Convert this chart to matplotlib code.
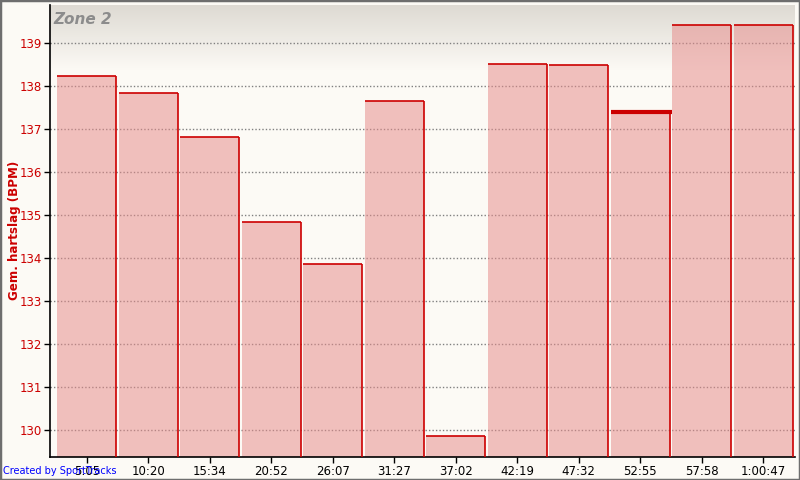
import numpy as np
import matplotlib
matplotlib.use("Agg")
import matplotlib.pyplot as plt
from matplotlib.patches import Rectangle

categories = ["5:05", "10:20", "15:34", "20:52", "26:07", "31:27",
              "37:02", "42:19", "47:32", "52:55", "57:58", "1:00:47"]
values = [138.23, 137.84, 136.82, 134.84, 133.87, 137.66,
          129.87, 138.51, 138.49, 137.40, 139.42, 139.42]
highlight_index = 9
yticks = [130, 131, 132, 133, 134, 135, 136, 137, 138, 139]

BG = "#fcfaf5"
RED = "#cc0000"

fig = plt.figure(figsize=(8, 4.8), dpi=100, facecolor=BG)
ax = fig.add_axes([50/800, 1-457/480, 745/800, 452/480])
ax.set_facecolor(BG)

ymin, ymax = 129.38, 139.89
xmin, xmax = -0.614, 11.5
ax.set_xlim(xmin, xmax)
ax.set_ylim(ymin, ymax)

# gradient at top of plot area
frac = 65/452
grad = np.linspace(0, 1, 100).reshape(-1, 1)
top = np.array([222, 218, 211]) / 255
bot = np.array([252, 250, 245]) / 255
img = top[None, None, :] * (1 - grad[:, :, None]) + bot[None, None, :] * grad[:, :, None]
ax.imshow(img, extent=[xmin, xmax, ymax - frac*(ymax-ymin), ymax],
          aspect="auto", zorder=0, origin="upper")

# grid
for t in yticks:
    ax.axhline(t, color="#808080", lw=1.0, ls=(0, (1, 1.5)), zorder=1)

width = 0.967
x = np.arange(len(categories))
lefts = x - 0.5
ax.bar(lefts, [v - ymin for v in values], bottom=ymin, width=width, align="edge",
       color="#e68b8a", alpha=0.53, edgecolor="none", zorder=2)
for i, v in enumerate(values):
    ax.plot([lefts[i], lefts[i] + width], [v, v], color=RED, lw=1.2, zorder=3,
            solid_capstyle="butt")
    ax.plot([lefts[i] + width, lefts[i] + width], [ymin, v], color=RED, lw=1.2,
            zorder=3, solid_capstyle="butt")
hv = values[highlight_index]
ax.plot([lefts[highlight_index], lefts[highlight_index] + width + 0.03], [hv, hv],
        color=RED, lw=3.0, zorder=4, solid_capstyle="butt")

ax.set_xticks(lefts + width/2)
ax.set_xticklabels(categories, fontsize=8.5, color="black")
ax.set_yticks(yticks)
ax.set_yticklabels([str(t) for t in yticks], fontsize=8.5, color=RED)
ax.tick_params(axis="both", direction="out", length=4, width=1, colors="black")
for lbl in ax.get_yticklabels():
    lbl.set_color(RED)
ax.tick_params(axis="x", pad=2)
ax.tick_params(axis="y", pad=2)

for s in ["top", "right"]:
    ax.spines[s].set_visible(False)
for s in ["left", "bottom"]:
    ax.spines[s].set_color("black")
    ax.spines[s].set_linewidth(1.2)

fig.text(15/800, 1-230/480, "Gem. hartslag (BPM)", color=RED, fontsize=8.6,
         fontweight="bold", rotation=90, ha="center", va="center")

ax.text(0.004, 0.985, "Zone 2", transform=ax.transAxes, fontsize=11,
        fontweight="bold", fontstyle="italic", color="#8c8c8c", va="top", ha="left")

fig.text(3/800, 1-471/480, "Created by SportTracks", color="#0000ff", fontsize=7,
         ha="left", va="center")

fig.patches.append(Rectangle((0, 0), 1, 1, transform=fig.transFigure, fill=False,
                             edgecolor="#6e6e6e", lw=2.5, zorder=10))

fig.savefig("out.png", dpi=100, facecolor=BG)
